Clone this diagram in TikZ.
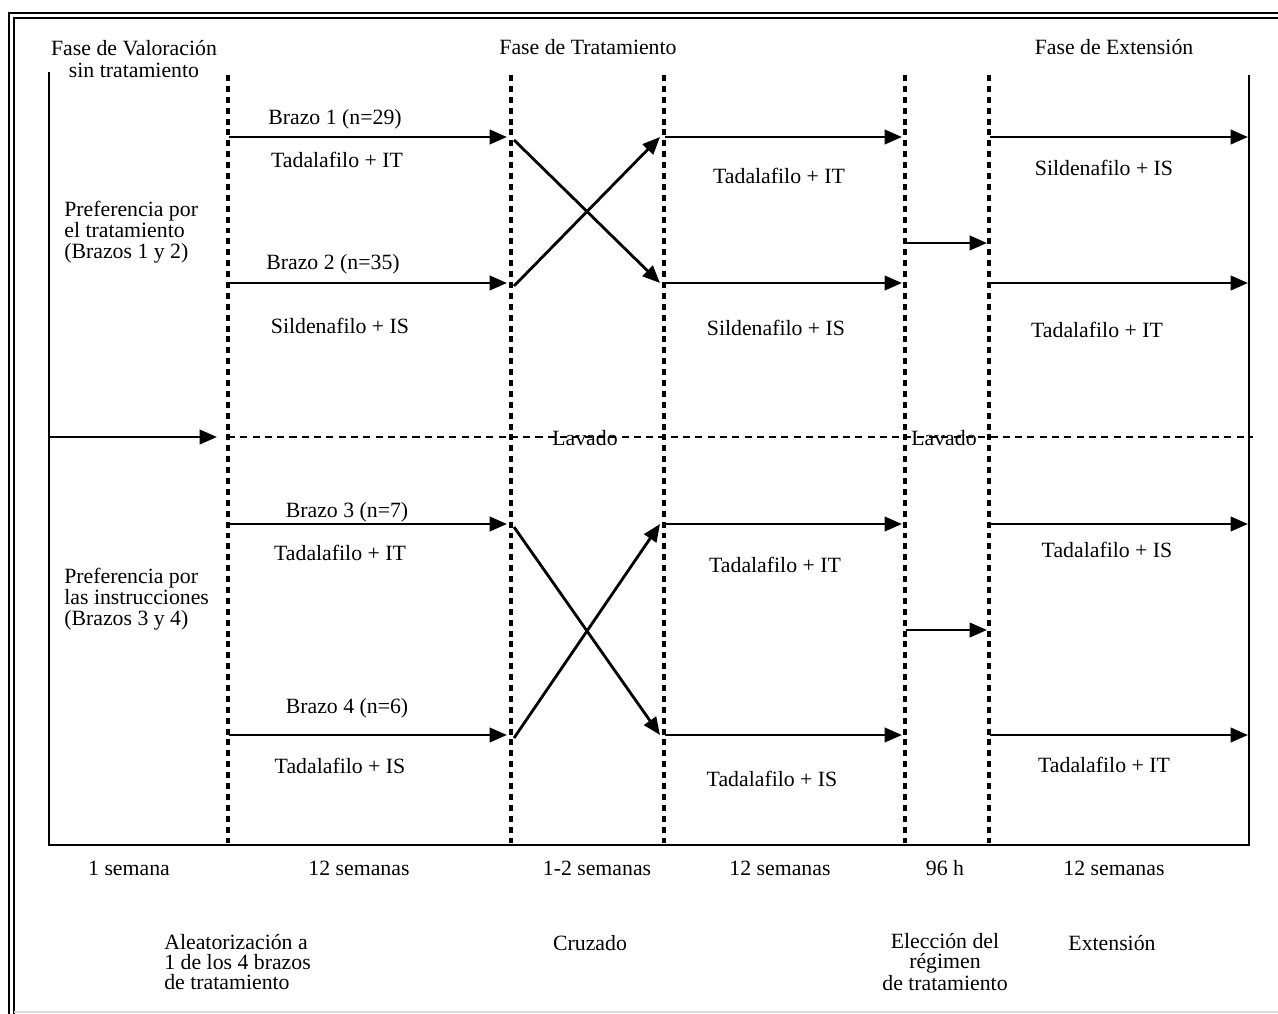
\documentclass[tikz,border=0pt]{standalone}
\usepackage{fontspec}
\setmainfont{Liberation Serif}
\usetikzlibrary{arrows.meta}

\begin{document}
\begin{tikzpicture}[x=0.02cm,y=-0.02cm,font=\fontsize{12.4}{12.6}\selectfont,
  lbl/.style={inner sep=0pt,align=center},
  lft/.style={inner sep=0pt,align=left,anchor=west},
  arr/.style={-{Triangle[length=3.5mm,width=2.9mm]},line width=1.6pt},
  sep/.style={line width=1.9pt,dash pattern=on 3.4pt off 2.8pt},
  wash/.style={line width=0.7pt,dash pattern=on 4pt off 3pt},
  frame/.style={line width=1.3pt}]
\useasboundingbox (0,0) rectangle (1278,1014);

% outer double frame
\draw[frame] (1278,13) -- (9,13) -- (9,1014);
\draw[frame] (1278,18) -- (14,18) -- (14,1014);
\draw[black!15,line width=0.8pt] (14,1012) -- (1278,1012);

% inner frame
\coordinate (lt) at (49,72);  \coordinate (lb) at (49,845);
\coordinate (rt) at (1249,75); \coordinate (rb) at (1249,845);
\draw[frame] (lt) -- (lb) -- (rb) -- (rt);

% phase separators
\foreach \x/\n in {228/d1,511/d2,664/d3,905/d4,989/d5}{
  \coordinate (\n t) at (\x,75); \coordinate (\n b) at (\x,843);
  \draw[sep] (\n t) -- (\n b);
}

% washout line
\coordinate (w0) at (49,437); \coordinate (w1) at (217,437);
\coordinate (w2) at (228,437); \coordinate (w3) at (1253,437);
\draw[arr] (w0) -- (w1);
\draw[wash] (w2) -- (w3);
\node[lbl] (lav1) at (585,438) {Lavado};
\node[lbl] (lav2) at (944,438) {Lavado};

% phase titles
\node[lbl] (fv) at (134,59) {Fase de Valoración\\sin tratamiento};
\node[lbl] (ft) at (588,47) {Fase de Tratamiento};
\node[lbl] (fe) at (1114,47) {Fase de Extensión};

% preference groups
\node[lft,font=\fontsize{12.4}{12}\selectfont] (pt) at (64,232) {Preferencia por\\el tratamiento\\(Brazos 1 y 2)};
\node[lft,font=\fontsize{12.4}{12}\selectfont] (pi) at (64,599) {Preferencia por\\las instrucciones\\(Brazos 3 y 4)};

% arms
\foreach \y/\n in {137/a,283/b,524/c,735/e}{
  \coordinate (\n0) at (229,\y); \coordinate (\n1) at (507,\y);
  \coordinate (\n2) at (514,\y+3); \coordinate (\n3) at (660,\y);
  \coordinate (\n4) at (665,\y); \coordinate (\n5) at (902,\y);
  \coordinate (\n6) at (990,\y); \coordinate (\n7) at (1248,\y);
  \draw[arr] (\n0) -- (\n1);
  \draw[arr] (\n4) -- (\n5);
  \draw[arr] (\n6) -- (\n7);
}
% crossover
\draw[arr] (a2) -- (b3); \draw[arr] (b2) -- (a3);
\draw[arr] (c2) -- (e3); \draw[arr] (e2) -- (c3);

% choice of regimen
\coordinate (ch1) at (906,243); \coordinate (ch2) at (987,243);
\coordinate (ch3) at (906,630); \coordinate (ch4) at (987,630);
\draw[arr] (ch1) -- (ch2); \draw[arr] (ch3) -- (ch4);

\node[lbl] (br1) at (335,119) {Brazo 1 (n=29)};
\node[lbl] (br2) at (333,264) {Brazo 2 (n=35)};
\node[lbl] (br3) at (347,512) {Brazo 3 (n=7)};
\node[lbl] (br4) at (347,708) {Brazo 4 (n=6)};

\node[lbl] (t1a) at (337,160) {Tadalafilo + IT};
\node[lbl] (t1b) at (340,326) {Sildenafilo + IS};
\node[lbl] (t1c) at (340,553) {Tadalafilo + IT};
\node[lbl] (t1d) at (340,766) {Tadalafilo + IS};

\node[lbl] (t2a) at (779,176) {Tadalafilo + IT};
\node[lbl] (t2b) at (776,328) {Sildenafilo + IS};
\node[lbl] (t2c) at (775,565) {Tadalafilo + IT};
\node[lbl] (t2d) at (772,779) {Tadalafilo + IS};

\node[lbl] (t3a) at (1104,168) {Sildenafilo + IS};
\node[lbl] (t3b) at (1097,330) {Tadalafilo + IT};
\node[lbl] (t3c) at (1107,550) {Tadalafilo + IS};
\node[lbl] (t3d) at (1104,765) {Tadalafilo + IT};

% durations
\node[lbl] (du1) at (129,868) {1 semana};
\node[lbl] (du2) at (359,868) {12 semanas};
\node[lbl] (du3) at (597,868) {1-2 semanas};
\node[lbl] (du4) at (780,868) {12 semanas};
\node[lbl] (du5) at (945,868) {96 h};
\node[lbl] (du6) at (1114,868) {12 semanas};

% steps
\node[lft,font=\fontsize{12.4}{11.2}\selectfont] (st1) at (164,962) {Aleatorización a\\1 de los 4 brazos\\de tratamiento};
\node[lbl] (st2) at (590,943) {Cruzado};
\node[lbl,font=\fontsize{12.4}{11.2}\selectfont] (st3) at (945,962) {Elección del\\régimen\\de tratamiento};
\node[lbl] (st4) at (1112,943) {Extensión};
\end{tikzpicture}
\end{document}
